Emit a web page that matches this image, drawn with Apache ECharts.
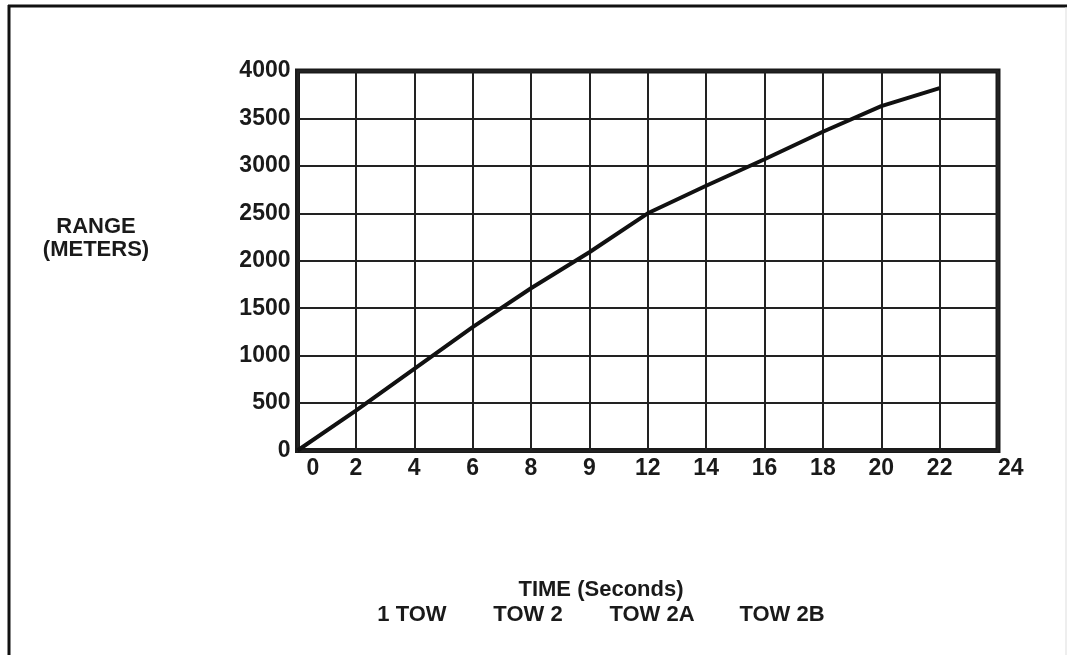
<!DOCTYPE html>
<html>
<head>
<meta charset="utf-8">
<title>Range vs Time</title>
<script src="https://cdn.jsdelivr.net/npm/echarts@6/dist/echarts.min.js"></script>
<style>
html, body { margin: 0; padding: 0; background: #fff; }
#chart { width: 1067px; height: 655px; }
</style>
</head>
<body>
<div id="chart"></div>
<script>
// x tick labels as printed on the chart (note the "9" where 10 would be)
var timeLabels = ['0', '2', '4', '6', '8', '9', '12', '14', '16', '18', '20', '22', '24'];
// range in meters read at each grid line (curve stops at 22)
var rangeValues = [0, 420, 860, 1300, 1710, 2090, 2500, 2790, 3070, 3360, 3630, 3820];
var yMin = 0, yMax = 4000, yStep = 500;
var missileNames = ['1 TOW', 'TOW 2', 'TOW 2A', 'TOW 2B'];
var missileX = [412, 528, 652, 782];

var font = '"Liberation Sans", Arial, sans-serif';
var ink = '#1a1a1a';

function label(text, x, y) {
    return { type: 'text', style: { text: text, x: x, y: y, align: 'center', verticalAlign: 'middle', font: 'bold 22px ' + font, fill: ink } };
}

var graphics = [
    // page frame (left and top edges)
    { type: 'line', shape: { x1: 9, y1: 5, x2: 9, y2: 655 }, style: { stroke: '#111', lineWidth: 3 } },
    { type: 'line', shape: { x1: 8, y1: 6, x2: 1067, y2: 6 }, style: { stroke: '#111', lineWidth: 3 } },
    { type: 'line', shape: { x1: 1066, y1: 7, x2: 1066, y2: 655 }, style: { stroke: '#ddd', lineWidth: 1 } },
    label('RANGE', 96, 227),
    label('(METERS)', 96, 250),
    label('TIME (Seconds)', 601, 590)
];
missileNames.forEach(function (n, i) {
    graphics.push(label(n, missileX[i], 615));
});

var chart = echarts.init(document.getElementById('chart'));
chart.setOption({
    backgroundColor: '#fff',
    animation: false,
    grid: {
        left: 297.5, right: 69, top: 71, bottom: 204.5,
        show: true, borderColor: '#1a1a1a', borderWidth: 5, backgroundColor: 'transparent'
    },
    xAxis: {
        type: 'category',
        data: timeLabels,
        boundaryGap: false,
        axisLine: { show: false },
        axisTick: { show: false },
        splitLine: { show: true, interval: 0, lineStyle: { color: '#222', width: 2 } },
        axisLabel: {
            interval: 0, margin: 7, color: ink, fontFamily: font, fontWeight: 'bold', fontSize: 23,
            alignMinLabel: 'left', alignMaxLabel: 'left',
            formatter: function (v, i) { return i === 0 ? '{p|' + v + '}' : v; },
            rich: { p: { padding: [0, 0, 0, 9], color: ink, fontFamily: font, fontWeight: 'bold', fontSize: 23 } }
        }
    },
    yAxis: {
        type: 'value',
        min: yMin, max: yMax, interval: yStep,
        axisLine: { show: false },
        axisTick: { show: false },
        splitLine: { show: true, lineStyle: { color: '#222', width: 2 } },
        axisLabel: {
            margin: 7, color: ink, fontFamily: font, fontWeight: 'bold', fontSize: 23, padding: [0, 0, 5, 0],
            formatter: function (v) { return String(v); }
        }
    },
    series: [{
        type: 'line',
        data: rangeValues,
        showSymbol: false,
        smooth: false,
        lineStyle: { color: '#111', width: 4 },
        z: 5
    }],
    graphic: graphics
});
</script>
</body>
</html>
